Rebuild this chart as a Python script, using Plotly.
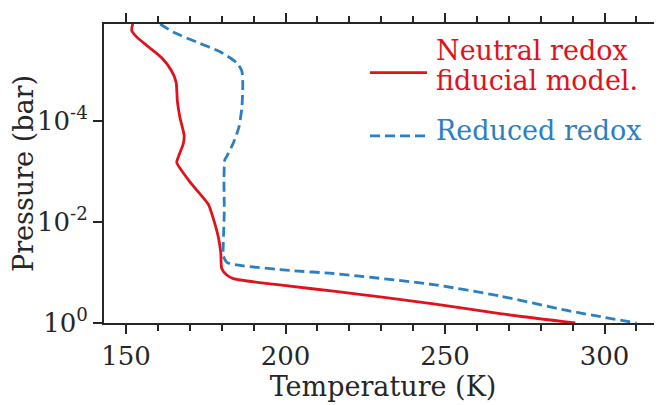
import plotly.graph_objects as go

# Neutral redox fiducial model (red, solid)
neutral_T = [152.1, 151.8, 153.4, 157.0, 161.2, 164.3, 165.7, 166.1, 166.9, 168.2, 168.0,
             166.6, 165.9, 170.1, 175.8, 176.9, 178.9, 179.7, 180.0, 181.6, 183.6,
             201.4, 215.0, 246.4, 267.2, 290.8]
neutral_logP = [-5.92, -5.79, -5.66, -5.47, -5.25, -4.99, -4.77, -4.39, -4.07, -3.72, -3.56,
                -3.32, -3.18, -2.79, -2.35, -2.16, -1.71, -1.39, -1.08, -0.95, -0.88,
                -0.73, -0.63, -0.38, -0.185, -0.0]

# Reduced redox (blue, dashed)
reduced_T = [160.7, 164.8, 172.2, 179.5, 184.7, 186.3, 186.6, 186.3, 185.4, 183.6, 181.6,
             181.0, 180.7, 180.8, 180.5, 180.5, 181.6, 185.7, 201.4, 215.0, 246.4,
             267.2, 288.2, 310.0]
reduced_logP = [-5.92, -5.76, -5.56, -5.37, -5.15, -4.99, -4.70, -4.26, -3.88, -3.56, -3.30,
                -3.24, -2.86, -2.22, -1.59, -1.33, -1.20, -1.14, -1.04, -0.98, -0.76,
                -0.535, -0.248, 0.0]

x_ticks = [150, 200, 250, 300]
y_tickvals = [1e-4, 1e-2, 1e0]
y_ticktext = ["10<sup>-4</sup>", "10<sup>-2</sup>", "10<sup>0</sup>"]

RED = "#e0121c"
BLUE = "#2a80c2"
FONT = "DejaVu Serif"
INK = "#262626"
FS = 27
DASH = "10px,5px"

fig = go.Figure()
fig.add_trace(go.Scatter(x=neutral_T, y=[10 ** v for v in neutral_logP], mode="lines",
                         line=dict(color=RED, width=2.8, shape="spline", smoothing=0.6),
                         name="Neutral redox fiducial model.", showlegend=False))
fig.add_trace(go.Scatter(x=reduced_T, y=[10 ** v for v in reduced_logP], mode="lines",
                         line=dict(color=BLUE, width=2.8, dash=DASH, shape="spline", smoothing=0.6),
                         name="Reduced redox", showlegend=False))

OFF = 8  # page body offset
W, H = 662, 405
# desired plot area in window coordinates
X0, X1, Y0, Y1 = 104, 662, 13, 323
L, R, T, B = X0 - OFF, W - (X1 - OFF), Y0 - OFF, H - (Y1 - OFF)
pw, ph = X1 - X0, Y1 - Y0

def px(x):
    return (x - X0) / pw

def py(y):
    return (Y1 - y) / ph

# legend (manual)
fig.add_shape(type="line", xref="paper", yref="paper", x0=px(370), x1=px(427), y0=py(63.5), y1=py(63.5),
              line=dict(color=RED, width=2.8))
fig.add_shape(type="line", xref="paper", yref="paper", x0=px(370), x1=px(427), y0=py(129), y1=py(129),
              line=dict(color=BLUE, width=2.8, dash=DASH))
for txt, yy, col in [("Neutral redox", 40, RED), ("fiducial model.", 72, RED), ("Reduced redox", 123, BLUE)]:
    fig.add_annotation(xref="paper", yref="paper", x=px(434), y=py(yy), xanchor="left", yanchor="middle",
                       text=txt, showarrow=False, align="left",
                       font=dict(family=FONT, size=FS, color=col))

fig.update_layout(
    width=W, height=H,
    margin=dict(l=L, r=R, t=T, b=B),
    plot_bgcolor="white", paper_bgcolor="white",
    font=dict(family=FONT, size=FS, color=INK),
)
fig.update_xaxes(range=[143.1, 318.0], tickvals=x_ticks, ticks="outside", ticklen=9, tickwidth=1.8,
                 tickcolor=INK, showline=True, linecolor=INK, linewidth=2, mirror="ticks",
                 showgrid=False, zeroline=False,
                 minor=dict(dtick=10, ticks="outside", ticklen=6, tickwidth=1.5, tickcolor=INK, showgrid=False),
                 title=dict(text="Temperature (K)", font=dict(family=FONT, size=FS, color=INK), standoff=4),
                 tickfont=dict(family=FONT, size=FS - 1, color=INK))
fig.update_yaxes(type="log", range=[0, -5.92], tickvals=y_tickvals, ticktext=y_ticktext,
                 ticks="outside", ticklen=9, tickwidth=1.8, tickcolor=INK, showline=True, linecolor=INK,
                 linewidth=2, showgrid=False, zeroline=False,
                 title=dict(text="Pressure (bar)", font=dict(family=FONT, size=FS, color=INK), standoff=2),
                 tickfont=dict(family=FONT, size=FS - 1, color=INK))

fig.write_html("out.html")
